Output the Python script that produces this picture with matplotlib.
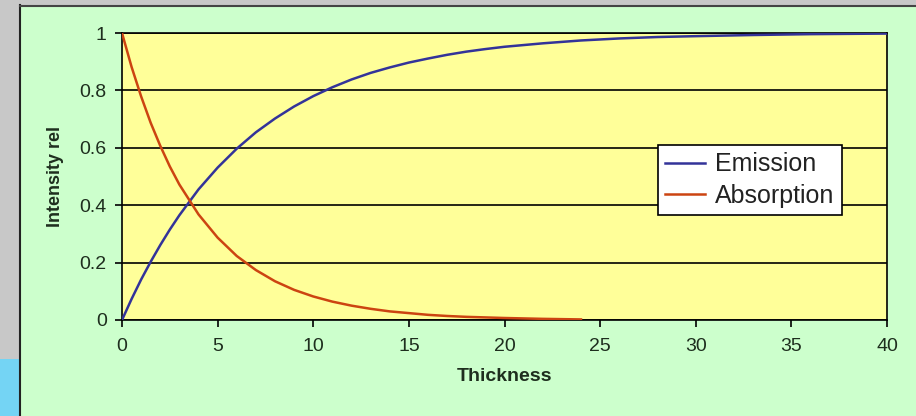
import matplotlib
matplotlib.use("Agg")
import matplotlib.pyplot as plt
from matplotlib.patches import Rectangle
from matplotlib.lines import Line2D

# values
emission_x = [0, 0.5, 1, 1.5, 2, 2.5, 3, 4, 5, 6, 7, 8, 9, 10, 11, 12, 13, 14, 15,
              16, 17, 18, 19, 20, 22, 24, 26, 28, 30, 33, 36, 40]
emission_y = [0, 0.073, 0.141, 0.203, 0.261, 0.315, 0.365, 0.455, 0.531, 0.597,
              0.654, 0.702, 0.744, 0.780, 0.811, 0.838, 0.861, 0.880, 0.897, 0.911,
              0.924, 0.935, 0.944, 0.952, 0.964, 0.974, 0.981, 0.986, 0.989, 0.993,
              0.996, 0.998]

absorption_x = [0, 0.5, 1, 1.5, 2, 2.5, 3, 4, 5, 6, 7, 8, 9, 10, 11, 12, 13, 14, 15,
                16, 17, 18, 19, 20, 22, 24]
absorption_y = [1, 0.882, 0.779, 0.687, 0.607, 0.535, 0.472, 0.368, 0.287, 0.223,
                0.174, 0.135, 0.105, 0.082, 0.064, 0.050, 0.039, 0.030, 0.024, 0.018,
                0.014, 0.011, 0.009, 0.007, 0.004, 0.002]

x_ticks = [0, 5, 10, 15, 20, 25, 30, 35, 40]
y_ticks = [0, 0.2, 0.4, 0.6, 0.8, 1]
y_tick_labels = ["0", "0.2", "0.4", "0.6", "0.8", "1"]

plt.rcParams['font.family'] = ['Liberation Sans', 'DejaVu Sans']

W, H = 916, 416
fig = plt.figure(figsize=(W / 100, H / 100), dpi=100, facecolor="#ccffcc")

# screenshot frame: grey strips, blue corner, black border of the chart
fig.patches.append(Rectangle((0, 0), 19 / W, 1, transform=fig.transFigure,
                             facecolor="#c8c8c8", edgecolor="none", zorder=0))
fig.patches.append(Rectangle((0, 0), 19 / W, 57 / H, transform=fig.transFigure,
                             facecolor="#74d4f4", edgecolor="none", zorder=0))
fig.patches.append(Rectangle((0, 1 - 5 / H), 1, 5 / H, transform=fig.transFigure,
                             facecolor="#c8c8c8", edgecolor="none", zorder=0))
fig.lines.append(Line2D([19.5 / W, 19.5 / W], [0, 1 - 5 / H], transform=fig.transFigure,
                        color="#222222", lw=1.5))
fig.lines.append(Line2D([19.5 / W, 1], [1 - 5.5 / H, 1 - 5.5 / H], transform=fig.transFigure,
                        color="#444444", lw=1.5))

ax = fig.add_axes([122 / W, 1 - 320 / H, (887 - 122) / W, (320 - 33) / H])
ax.set_facecolor("#ffff99")

ax.plot(emission_x, emission_y, color="#333399", lw=1.8, label="Emission", zorder=3)
ax.plot(absorption_x, absorption_y, color="#cc4411", lw=1.8, label="Absorption", zorder=3)

ax.set_xlim(0, 40)
ax.set_ylim(0, 1)
ax.set_xticks(x_ticks)
ax.set_yticks(y_ticks)
ax.set_yticklabels(y_tick_labels)
ax.yaxis.grid(True, color="black", lw=1.2)
ax.set_axisbelow(True)
for s in ax.spines.values():
    s.set_color("black")
    s.set_linewidth(1.2)
ax.tick_params(axis="both", direction="out", length=5, width=1.2, colors="black",
               labelcolor="#1e2e1e", labelsize=14)
ax.tick_params(axis="x", pad=8)
ax.tick_params(axis="y", pad=6)

ax.set_xlabel("Thickness", fontsize=14, fontweight="bold", color="#1e2e1e", labelpad=9)
ax.set_ylabel("Intensity rel", fontsize=13, fontweight="bold", color="#1e2e1e", labelpad=11)

leg = ax.legend(loc="upper left", bbox_to_anchor=(0.70, 0.61), borderaxespad=0,
                fontsize=18, frameon=True, fancybox=False, framealpha=1,
                edgecolor="black", handlelength=1.6, handletextpad=0.4,
                borderpad=0.3, labelspacing=0.3)
leg.get_frame().set_linewidth(1.2)
for t in leg.get_texts():
    t.set_color("#222222")

fig.savefig("out.png", dpi=100, facecolor=fig.get_facecolor())
